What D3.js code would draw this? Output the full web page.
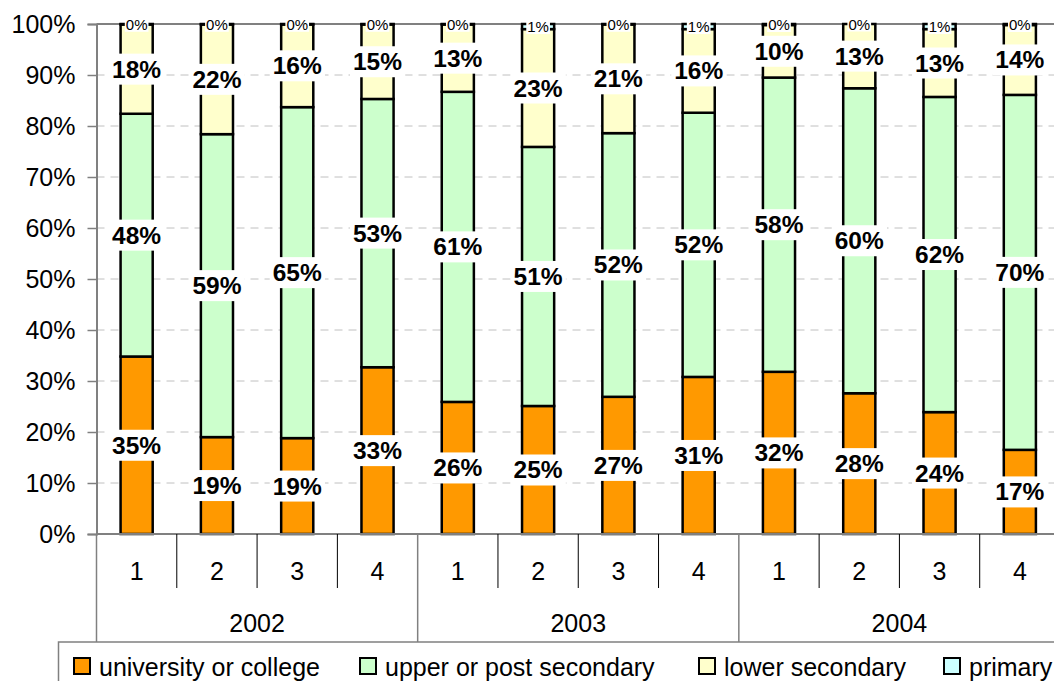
<!DOCTYPE html>
<html>
<head>
<meta charset="utf-8">
<script src="https://cdn.jsdelivr.net/npm/d3@7"></script>
<style>
  body { margin: 0; background: #fff; }
  svg { display: block; font-family: "Liberation Sans", Arial, sans-serif; }
</style>
</head>
<body>
<div id="chart"></div>
<script>
const years = ["2002", "2003", "2004"];
const quarters = ["1", "2", "3", "4"];
const seriesNames = ["university or college", "upper or post secondary", "lower secondary", "primary"];
const seriesColors = ["#FF9900", "#CCFFCC", "#FFFFCC", "#CCFFFF"];

// shares in percent
const university = [34.8, 19.0, 18.8, 32.7, 25.9, 25.1, 26.9, 30.8, 31.8, 27.6, 23.9, 16.5];
const upperSecondary = [47.6, 59.4, 64.9, 52.6, 60.8, 50.8, 51.7, 51.8, 57.7, 59.8, 61.8, 69.6];
const lowerSecondary = [17.5, 21.5, 16.2, 14.6, 13.2, 23.1, 21.3, 16.4, 10.3, 12.6, 13.3, 13.7];
const primary = [0.1, 0.1, 0.1, 0.1, 0.1, 1.0, 0.1, 1.0, 0.2, 0.0, 1.0, 0.2];

const yTicks = [0, 10, 20, 30, 40, 50, 60, 70, 80, 90, 100];

const W = 1054, H = 681;
const plot = {left: 96.5, right: 1060, top: 24, bottom: 534};

const rows = [];
years.forEach((yr, yi) => quarters.forEach((q, qi) => {
  const i = yi * 4 + qi;
  rows.push({id: i, year: yr, quarter: q,
    s0: university[i], s1: upperSecondary[i], s2: lowerSecondary[i], s3: primary[i]});
}));
const keys = ["s0", "s1", "s2", "s3"];

const svg = d3.select("#chart").append("svg")
  .attr("width", W).attr("height", H);

const cell = d3.scaleBand().domain(rows.map(d => d.id)).range([plot.left, plot.right]).padding(0);
const x = d3.scaleBand().domain(rows.map(d => d.id)).range([plot.left, plot.right])
  .paddingInner(0.6).paddingOuter(0.3);
const yearScale = d3.scaleBand().domain(years).range([plot.left, plot.right]).padding(0);
const y = d3.scaleLinear().domain([0, 100]).range([plot.bottom, plot.top]);

// gridlines
svg.append("g").selectAll("line")
  .data(yTicks.filter(t => t > 0 && t < 100))
  .join("line")
  .attr("x1", plot.left).attr("x2", plot.right)
  .attr("y1", d => y(d)).attr("y2", d => y(d))
  .attr("stroke", "#c0c0c0").attr("stroke-width", 1)
  .attr("stroke-dasharray", "8,6");
svg.append("line")
  .attr("x1", plot.left).attr("x2", plot.right)
  .attr("y1", y(100)).attr("y2", y(100))
  .attr("stroke", "#808080").attr("stroke-width", 2);

// y axis
const yAxis = d3.axisLeft(y).tickValues(yTicks).tickSize(9).tickPadding(12)
  .tickFormat(d => d + "%");
const ya = svg.append("g").attr("transform", `translate(${plot.left},0)`).call(yAxis);
ya.select(".domain").attr("stroke", "#808080").attr("stroke-width", 2);
ya.selectAll(".tick line").attr("stroke", "#808080").attr("stroke-width", 1.5);
ya.selectAll(".tick text").attr("font-size", 25).attr("fill", "#000")
  .attr("font-family", "Liberation Sans, Arial, sans-serif");

// stacked bars
const stacked = d3.stack().keys(keys)(rows);
const barG = svg.append("g");
stacked.forEach((layer, li) => {
  barG.append("g").selectAll("rect")
    .data(layer)
    .join("rect")
    .attr("x", d => x(d.data.id))
    .attr("width", x.bandwidth())
    .attr("y", d => y(d[1]))
    .attr("height", d => Math.max(0, y(d[0]) - y(d[1])))
    .attr("fill", seriesColors[li])
    .attr("stroke", "#000").attr("stroke-width", 2.5);
});

// x axis: base line, quarter and year separators
svg.append("line")
  .attr("x1", plot.left).attr("x2", plot.right)
  .attr("y1", plot.bottom).attr("y2", plot.bottom)
  .attr("stroke", "#808080").attr("stroke-width", 2);
svg.append("g").selectAll("line")
  .data(rows.filter(d => d.id % 4 !== 0))
  .join("line")
  .attr("x1", d => cell(d.id)).attr("x2", d => cell(d.id))
  .attr("y1", plot.bottom).attr("y2", 588)
  .attr("stroke", "#000").attr("stroke-width", 1);
svg.append("g").selectAll("line")
  .data(years)
  .join("line")
  .attr("x1", d => yearScale(d)).attr("x2", d => yearScale(d))
  .attr("y1", plot.bottom).attr("y2", 642)
  .attr("stroke", "#808080").attr("stroke-width", 1.5);
svg.append("g").selectAll("text")
  .data(rows)
  .join("text")
  .attr("x", d => cell(d.id) + cell.bandwidth() / 2)
  .attr("y", 580)
  .attr("text-anchor", "middle")
  .attr("font-size", 25)
  .text(d => d.quarter);
svg.append("g").selectAll("text")
  .data(years)
  .join("text")
  .attr("x", d => yearScale(d) + yearScale.bandwidth() / 2)
  .attr("y", 632)
  .attr("text-anchor", "middle")
  .attr("font-size", 25)
  .text(d => d);

// data labels with white boxes
const labelG = svg.append("g");
stacked.forEach((layer, li) => {
  const small = li === 3;
  layer.forEach(d => {
    const cx = x(d.data.id) + x.bandwidth() / 2;
    const cy = y((d[0] + d[1]) / 2);
    const g = labelG.append("g");
    const box = g.append("rect").attr("fill", "#fff");
    const t = g.append("text")
      .attr("x", cx).attr("y", cy)
      .attr("text-anchor", "middle")
      .attr("dominant-baseline", "central")
      .attr("font-size", small ? 15 : 24.5)
      .attr("font-weight", small ? "normal" : "bold")
      .text(Math.round(d[1] - d[0]) + "%");
    const bb = t.node().getBBox();
    const px = small ? 1 : 3, py = small ? -1 : 2;
    box.attr("x", bb.x - px).attr("y", bb.y - py)
      .attr("width", bb.width + 2 * px).attr("height", bb.height + 2 * py);
  });
});

// legend
const legend = svg.append("g");
legend.append("rect")
  .attr("x", 58.5).attr("y", 642).attr("width", 1100).attr("height", 60)
  .attr("fill", "#fff").attr("stroke", "#808080").attr("stroke-width", 1.5);
const legendX = [74, 360, 699, 944];
seriesNames.forEach((name, i) => {
  legend.append("rect")
    .attr("x", legendX[i]).attr("y", 658).attr("width", 16).attr("height", 16)
    .attr("fill", seriesColors[i]).attr("stroke", "#000").attr("stroke-width", 2);
  legend.append("text")
    .attr("x", legendX[i] + 25).attr("y", 676)
    .attr("font-size", 25)
    .text(name);
});
</script>
</body>
</html>
